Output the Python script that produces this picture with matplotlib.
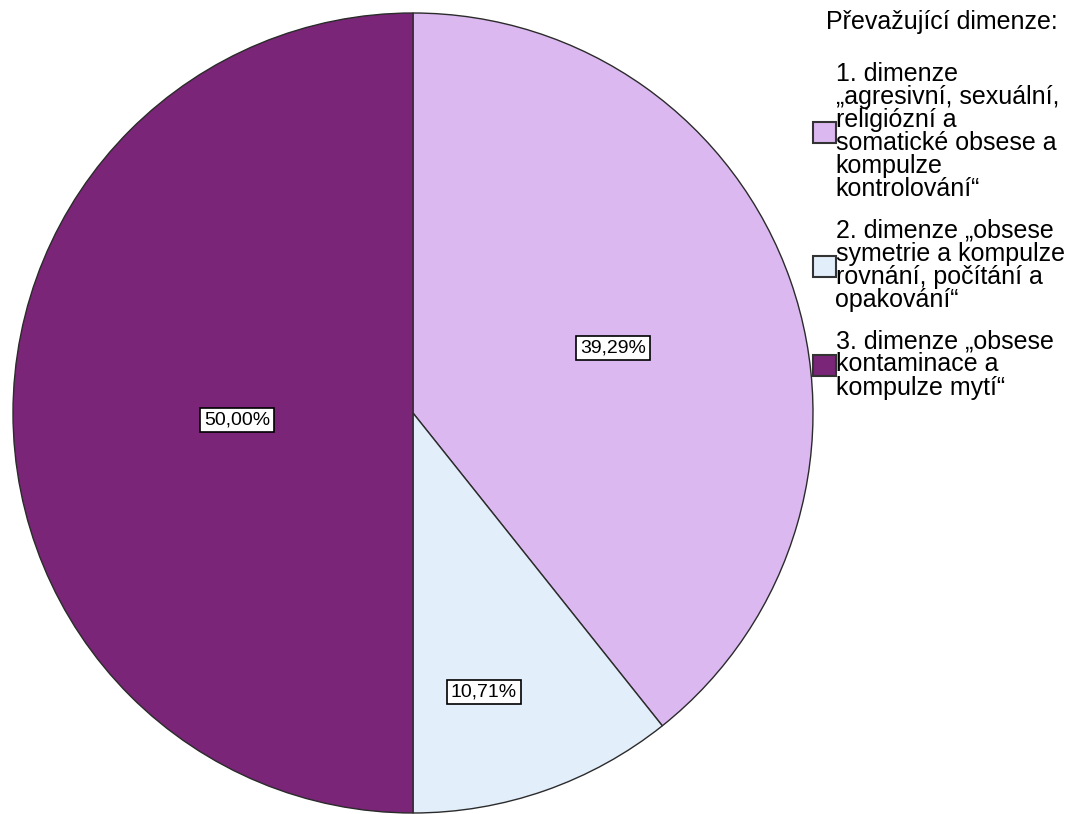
import numpy as np
import matplotlib.pyplot as plt

plt.rcParams['font.family'] = ['Liberation Sans', 'DejaVu Sans']

# share of respondents by predominant dimension
labels = [
    "1. dimenze\n\u201eagresivní, sexuální,\nreligiózní a\nsomatické obsese a\nkompulze\nkontrolování\u201c",
    "2. dimenze \u201eobsese\nsymetrie a kompulze\nrovnání, počítání a\nopakování\u201c",
    "3. dimenze \u201eobsese\nkontaminace a\nkompulze mytí\u201c",
]
shares = [39.29, 10.71, 50.00]
colors = ["#DCB8F1", "#E2EEFA", "#7A2577"]
legend_title = "Převažující dimenze:"

# where each percentage label sits: fraction of radius, angle nudge in degrees
label_r = [0.526, 0.72, 0.44]
label_nudge = [-1.3, -5.0, 2.3]

W, H = 1079, 814
fig = plt.figure(figsize=(W / 100, H / 100), dpi=100)
ax = fig.add_axes([13 / W, 1 / H, 800 / W, 800 / H])

wedges, _ = ax.pie(shares, colors=colors, startangle=90, counterclock=False,
                   radius=1.0,
                   wedgeprops=dict(edgecolor="#2b2b2b", linewidth=1.0))
ax.set_xlim(-1, 1)
ax.set_ylim(-1, 1)
ax.set_aspect("equal")
ax.axis("off")

for w, val, r, nd in zip(wedges, shares, label_r, label_nudge):
    mid = np.deg2rad((w.theta1 + w.theta2) / 2 + nd)
    txt = f"{val:.2f}%".replace(".", ",")
    ax.text(r * np.cos(mid), r * np.sin(mid), txt, ha="center", va="center",
            fontsize=14,
            bbox=dict(boxstyle="square,pad=0.2", fc="white", ec="black", lw=1.2))

# legend title drawn on its own so the gap below it can be set freely
fig.text(942 / W, 1 - 22 / H, legend_title, ha="center", va="center", fontsize=18)

leg = ax.legend(wedges, labels, loc="upper left",
                bbox_to_anchor=(813 / W, 1 - 62 / H),
                bbox_transform=fig.transFigure, frameon=False, fontsize=18,
                handlelength=0.9, handleheight=0.9,
                handletextpad=0.0, labelspacing=0.7, borderaxespad=0.0,
                borderpad=0.0)
for t in leg.get_texts():
    t.set_linespacing(0.95)
for h in leg.legend_handles:
    h.set_edgecolor("#333333")
    h.set_linewidth(1.5)

fig.savefig("out.png", dpi=100)
